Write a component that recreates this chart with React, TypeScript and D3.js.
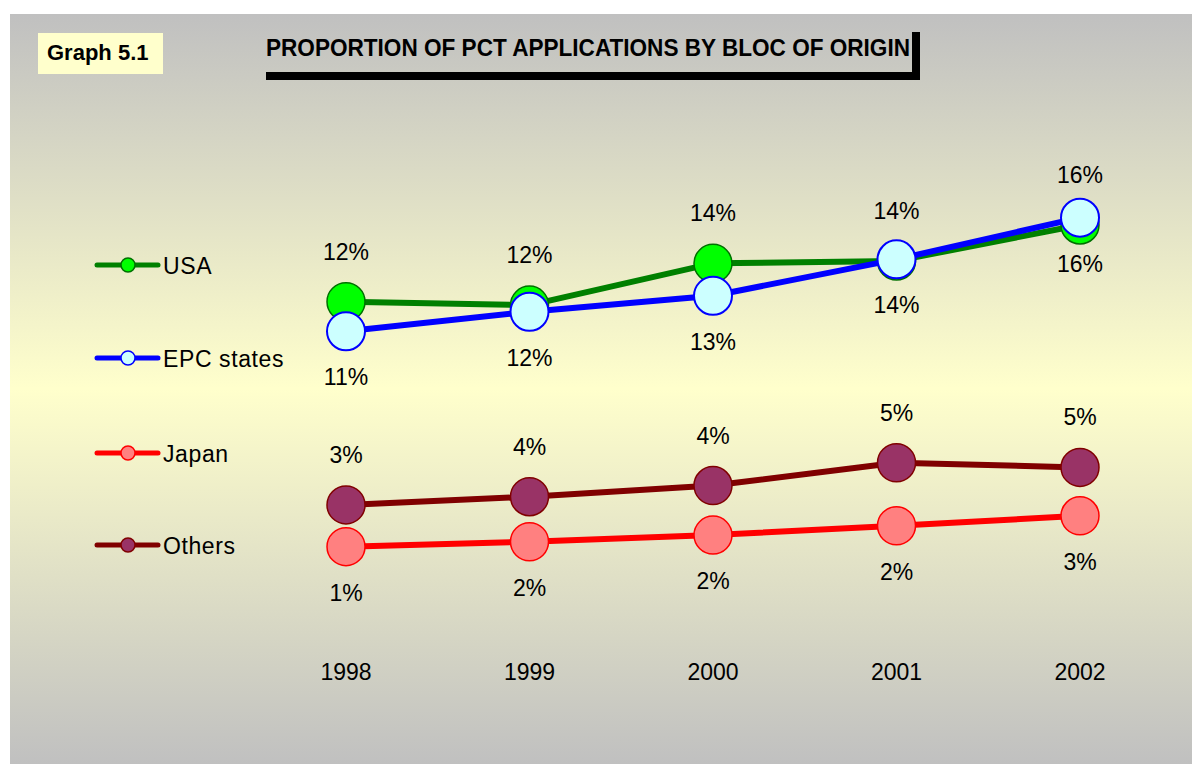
import React from "react";
import * as d3 from "d3";

const years = ["1998", "1999", "2000", "2001", "2002"];
const seriesNames = ["USA", "EPC states", "Japan", "Others"];
const usaValues = [12.33, 12.18, 14.06, 14.17, 15.79];
const epcValues = [11.0, 11.88, 12.6, 14.24, 16.12];
const japanValues = [1.3, 1.52, 1.82, 2.24, 2.69];
const othersValues = [3.18, 3.55, 4.05, 5.08, 4.87];

const W = 1192;
const H = 764;
const FONT = "'Liberation Sans', Arial, Helvetica, sans-serif";

const series = [
  { name: seriesNames[0], values: usaValues, line: "#008000", fill: "#00FF00", stroke: "#007000", sw: 1.5, labelPos: "above" },
  { name: seriesNames[1], values: epcValues, line: "#0000FF", fill: "#CCFFFF", stroke: "#0000FF", sw: 2, labelPos: "below" },
  { name: seriesNames[2], values: japanValues, line: "#FF0000", fill: "#FF8080", stroke: "#FF0000", sw: 1.5, labelPos: "below" },
  { name: seriesNames[3], values: othersValues, line: "#800000", fill: "#993366", stroke: "#800000", sw: 1.5, labelPos: "above" },
];

export default function App() {
  const x = d3.scalePoint<string>().domain(years).range([346, 1080]);
  const y = d3.scaleLinear().domain([0, 20]).range([575.5, 131.5]);
  const line = d3
    .line<number>()
    .x((_, i) => x(years[i]) as number)
    .y((d) => y(d));

  const legendY = [265, 358, 453, 545];

  return (
    <div style={{ position: "absolute", left: 0, top: 0 }}>
      <svg width={W} height={H} style={{ display: "block" }}>
        <defs>
          <linearGradient id="bg" x1="0" y1="0" x2="0" y2="1">
            <stop offset="0" stopColor="#C0C0C0" />
            <stop offset="0.5" stopColor="#FFFFCC" />
            <stop offset="1" stopColor="#C0C0C0" />
          </linearGradient>
        </defs>
        <rect x={0} y={0} width={W} height={H} fill="#FFFFFF" />
        <rect x={10} y={14} width={W - 10} height={H - 14} fill="url(#bg)" />

        {/* Graph label */}
        <rect x={38} y={33} width={125} height={41} fill="#FFFFCC" />
        <text x={47} y={60} fontFamily={FONT} fontWeight="bold" fontSize={22} fill="#000">
          Graph 5.1
        </text>

        {/* Title */}
        <text
          x={266}
          y={55.5}
          fontFamily={FONT}
          fontWeight="bold"
          fontSize={23}
          fill="#000"
          textLength={644}
          lengthAdjust="spacingAndGlyphs"
        >
          PROPORTION OF PCT APPLICATIONS BY BLOC OF ORIGIN
        </text>
        <rect x={266} y={72} width={654} height={8} fill="#000" />
        <rect x={912} y={32} width={8} height={48} fill="#000" />

        {/* Series */}
        {series.map((s) => (
          <g key={s.name}>
            <path d={line(s.values) || ""} fill="none" stroke={s.line} strokeWidth={6} strokeLinejoin="round" />
            {s.values.map((v, i) => (
              <circle
                key={i}
                cx={x(years[i])}
                cy={y(v)}
                r={19}
                fill={s.fill}
                stroke={s.stroke}
                strokeWidth={s.sw}
              />
            ))}
          </g>
        ))}

        {/* Data labels */}
        {series.map((s) => (
          <g key={s.name + "-labels"}>
            {s.values.map((v, i) => (
              <text
                key={i}
                x={x(years[i])}
                y={s.labelPos === "above" ? y(v) - 42 : y(v) + 54}
                textAnchor="middle"
                fontFamily={FONT}
                fontSize={23}
                fill="#000"
              >
                {Math.round(v) + "%"}
              </text>
            ))}
          </g>
        ))}

        {/* X axis labels */}
        {years.map((yr) => (
          <text key={yr} x={x(yr)} y={680} textAnchor="middle" fontFamily={FONT} fontSize={23} fill="#000">
            {yr}
          </text>
        ))}

        {/* Legend */}
        {series.map((s, i) => (
          <g key={s.name + "-legend"}>
            <line x1={97} x2={158} y1={legendY[i]} y2={legendY[i]} stroke={s.line} strokeWidth={5} strokeLinecap="round" />
            <circle cx={128} cy={legendY[i]} r={7} fill={s.fill} stroke={s.stroke} strokeWidth={1.5} />
            <text x={163} y={legendY[i] + 8.5} fontFamily={FONT} fontSize={23} letterSpacing={0.6} fill="#000">
              {s.name}
            </text>
          </g>
        ))}
      </svg>
    </div>
  );
}
